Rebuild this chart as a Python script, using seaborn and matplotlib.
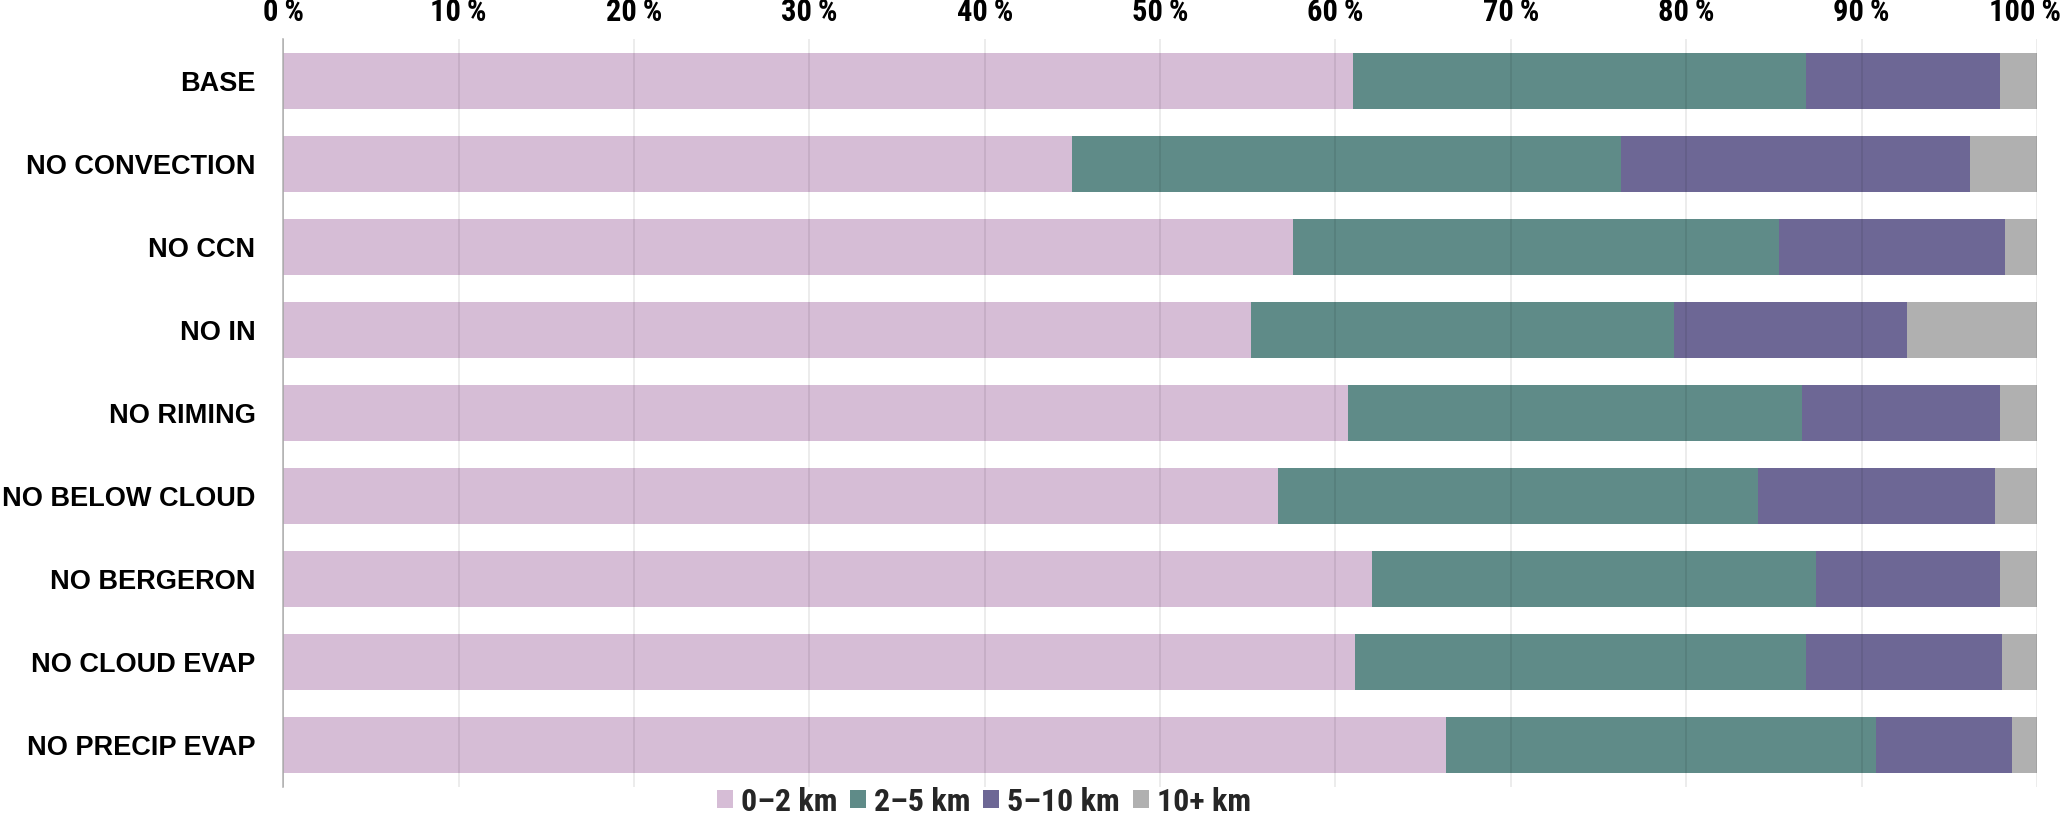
import matplotlib
matplotlib.use("Agg")
import matplotlib.pyplot as plt
import matplotlib.font_manager as fm
import matplotlib.transforms as mtransforms
from matplotlib.patches import Patch
import numpy as np
import pandas as pd
import seaborn as sns

categories = ["BASE", "NO CONVECTION", "NO CCN", "NO IN", "NO RIMING",
              "NO BELOW CLOUD", "NO BERGERON", "NO CLOUD EVAP", "NO PRECIP EVAP"]
series_names = ["0–2 km", "2–5 km", "5–10 km", "10+ km"]
s_0_2 = [61.0, 45.0, 57.6, 55.2, 60.7, 56.7, 62.1, 61.1, 66.3]
s_2_5 = [25.8, 31.3, 27.7, 24.1, 25.9, 27.4, 25.3, 25.7, 24.5]
s_5_10 = [11.1, 19.9, 12.9, 13.3, 11.3, 13.5, 10.5, 11.2, 7.8]
s_10p = [2.1, 3.8, 1.8, 7.4, 2.1, 2.4, 2.1, 2.0, 1.4]
tick_values = [0, 10, 20, 30, 40, 50, 60, 70, 80, 90, 100]
tick_labels = [f"{v}\u2009%" for v in tick_values]

colors = ["#d6bdd6", "#5f8b88", "#6d6795", "#b0b0b0"]

# find a condensed bold face if one is installed
cond = None
for f in fm.fontManager.ttflist:
    st = str(f.stretch).lower()
    if "condensed" in st or "narrow" in f.name.lower() or "condensed" in f.name.lower():
        if str(f.weight) in ("bold", "700", "semibold", "600") or f.weight in (600, 700):
            cond = f.fname
            if "Roboto" in f.name or "Liberation" in f.name:
                break


def cprop(size):
    if cond is not None:
        return fm.FontProperties(fname=cond, size=size)
    return fm.FontProperties(family="Roboto", weight="bold", size=size)


sns.set_theme(style="white")
plt.rcParams["font.family"] = ["Liberation Sans", "DejaVu Sans"]

df = pd.DataFrame({"cat": categories, "a": s_0_2, "b": s_2_5, "c": s_5_10, "d": s_10p})
cum = np.cumsum(df[["a", "b", "c", "d"]].values, axis=1)

fig = plt.figure(figsize=(20.67, 8.16), dpi=100)
ax = fig.add_axes([0.137, 0.036, 0.8485, 0.916])

for k in [3, 2, 1, 0]:
    sns.barplot(x=cum[:, k], y=df["cat"], orient="h", color=colors[k],
                saturation=1, width=0.67, ax=ax, linewidth=0)

ax.set_xlim(0, 100)
ax.set_ylim(8.5, -0.5)
ax.set_xticks(tick_values)
ax.set_xticklabels(tick_labels, fontproperties=cprop(22 if cond else 16), color="black")
ax.xaxis.tick_top()
ax.tick_params(axis="x", length=0, pad=9, colors="black")
ax.tick_params(axis="y", length=0, pad=20)
last = ax.get_xticklabels()[-1]
last.set_transform(last.get_transform() +
                   mtransforms.ScaledTranslation(-9 / 72, 0, fig.dpi_scale_trans))
for lab in ax.get_yticklabels():
    lab.set_fontsize(19.5)
    lab.set_fontweight("bold")
    lab.set_color("black")
ax.set_xlabel("")
ax.set_ylabel("")
ax.set_axisbelow(False)
ax.grid(axis="x", color="black", alpha=0.09, linewidth=1.2)
ax.grid(axis="y", visible=False)
for s in ["top", "right", "bottom"]:
    ax.spines[s].set_visible(False)
ax.spines["left"].set_color("#b8b8b8")
ax.spines["left"].set_linewidth(1.2)

handles = [Patch(facecolor=c, edgecolor="none") for c in colors]
fig.legend(handles, series_names, loc="lower center", bbox_to_anchor=(0.476, -0.036),
           ncol=4, frameon=False, handlelength=0.5, handleheight=0.5,
           handletextpad=0.25, columnspacing=0.4,
           prop=cprop(23 if cond else 18))

fig.savefig("out.png", dpi=100)
